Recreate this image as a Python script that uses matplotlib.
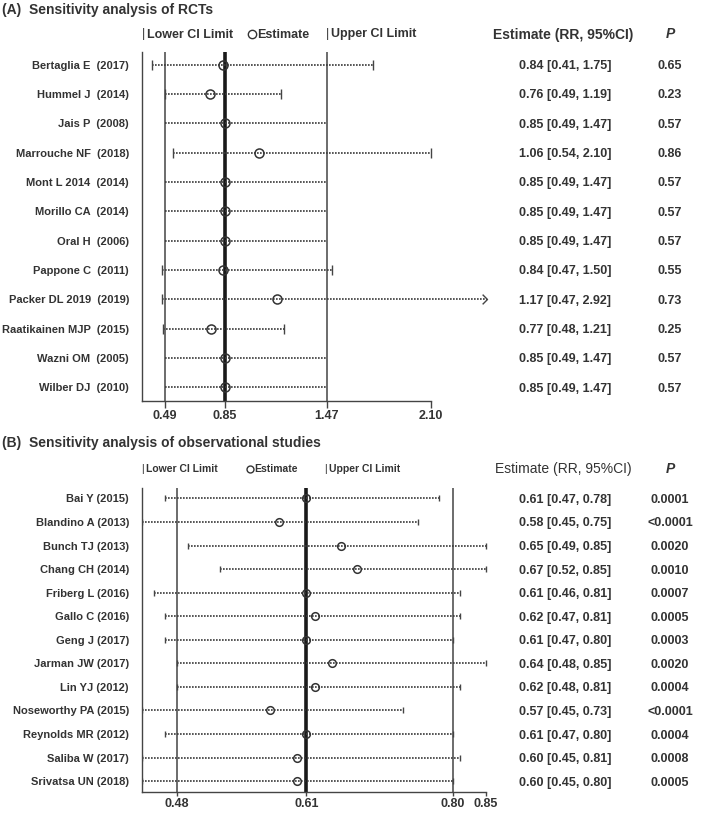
import matplotlib
matplotlib.use('Agg')
import matplotlib.pyplot as plt
from matplotlib.lines import Line2D
from matplotlib.path import Path
from matplotlib.ticker import NullLocator
from matplotlib.transforms import blended_transform_factory

# ---- data : panel A (RCTs) ----
rct_studies = ['Bertaglia E  (2017)', 'Hummel J  (2014)', 'Jais P  (2008)', 'Marrouche NF  (2018)',
               'Mont L 2014  (2014)', 'Morillo CA  (2014)', 'Oral H  (2006)', 'Pappone C  (2011)',
               'Packer DL 2019  (2019)', 'Raatikainen MJP  (2015)', 'Wazni OM  (2005)', 'Wilber DJ  (2010)']
rct_est = [0.84, 0.76, 0.85, 1.06, 0.85, 0.85, 0.85, 0.84, 1.17, 0.77, 0.85, 0.85]
rct_lo = [0.41, 0.49, 0.49, 0.54, 0.49, 0.49, 0.49, 0.47, 0.47, 0.48, 0.49, 0.49]
rct_hi = [1.75, 1.19, 1.47, 2.10, 1.47, 1.47, 1.47, 1.50, 2.92, 1.21, 1.47, 1.47]
rct_p = ['0.65', '0.23', '0.57', '0.86', '0.57', '0.57', '0.57', '0.55', '0.73', '0.25', '0.57', '0.57']
rct_overall = [0.49, 0.85, 1.47]
rct_ticks = [0.49, 0.85, 1.47, 2.10]

# ---- data : panel B (observational) ----
obs_studies = ['Bai Y (2015)', 'Blandino A (2013)', 'Bunch TJ (2013)', 'Chang CH (2014)', 'Friberg L (2016)',
               'Gallo C (2016)', 'Geng J (2017)', 'Jarman JW (2017)', 'Lin YJ (2012)', 'Noseworthy PA (2015)',
               'Reynolds MR (2012)', 'Saliba W (2017)', 'Srivatsa UN (2018)']
obs_est = [0.61, 0.58, 0.65, 0.67, 0.61, 0.62, 0.61, 0.64, 0.62, 0.57, 0.61, 0.60, 0.60]
obs_lo = [0.47, 0.45, 0.49, 0.52, 0.46, 0.47, 0.47, 0.48, 0.48, 0.45, 0.47, 0.45, 0.45]
obs_hi = [0.78, 0.75, 0.85, 0.85, 0.81, 0.81, 0.80, 0.85, 0.81, 0.73, 0.80, 0.81, 0.80]
obs_p = ['0.0001', '<0.0001', '0.0020', '0.0010', '0.0007', '0.0005', '0.0003', '0.0020', '0.0004',
         '<0.0001', '0.0004', '0.0008', '0.0005']
obs_overall = [0.48, 0.61, 0.80]
obs_ticks = [0.48, 0.61, 0.80, 0.85]

TXT = '#333333'
LINE = '#444444'
plt.rcParams['font.family'] = ['Liberation Sans', 'DejaVu Sans']

W, H = 709, 813
fig = plt.figure(figsize=(W / 100, H / 100), dpi=100)
chevron = Path([(-1, 1), (0, 0), (-1, -1)], [Path.MOVETO, Path.LINETO, Path.LINETO])


def fy(py):
    return 1 - py / H


def forest(ax, est, lo, hi, overall, ticks, studies, pvals, ms, cap, tick_len):
    n = len(est)
    xmin, xmax = ax.get_xlim()
    for i, v in enumerate(overall):
        ax.axvline(v, color='#1a1a1a' if i == 1 else LINE, lw=2.6 if i == 1 else 1.1, zorder=1)
    for i in range(n):
        right = hi[i] if hi[i] <= xmax else xmax * 0.996
        ax.plot([lo[i], right], [i, i], color='#3a3a3a', lw=1.2, ls=(0, (1, 0.8)), zorder=2)
        same = [lo[i], est[i], hi[i]] == overall
        if not same:
            ax.plot([lo[i]], [i], marker='|', ms=cap, mew=1.0, color=LINE, zorder=3)
            if hi[i] <= xmax:
                ax.plot([hi[i]], [i], marker='|', ms=cap, mew=1.0, color=LINE, zorder=3)
        if hi[i] > xmax:
            ax.plot([right], [i], marker=chevron, ms=7, mew=1.0, mfc='none', color=LINE, zorder=3)
        ax.plot([est[i]], [i], marker='o', ms=ms, mfc='none', mec='#333333', mew=1.1, zorder=4)

    ax.set_ylim(n - 1 + 0.46, -0.44)
    ax.set_yticks(range(n))
    ax.set_yticklabels(studies, fontsize=8, fontweight='bold', color=TXT)
    ax.tick_params(axis='y', length=0, pad=9.4)
    ax.set_xticks(ticks)
    ax.xaxis.set_minor_locator(NullLocator())
    ax.set_xticklabels(['%.2f' % t for t in ticks], fontsize=9, fontweight='bold', color=TXT)
    ax.tick_params(axis='x', direction='out', length=tick_len, width=1.0, color=LINE, pad=1.5)
    for s in ['top', 'right']:
        ax.spines[s].set_visible(False)
    for s in ['left', 'bottom']:
        ax.spines[s].set_color(LINE)
        ax.spines[s].set_linewidth(1.0)
    ax.spines['bottom'].set_bounds(xmin, ticks[-1])

    tr = blended_transform_factory(fig.transFigure, ax.transData)
    for i in range(n):
        ax.text(565 / W, i, '%.2f [%.2f, %.2f]' % (est[i], lo[i], hi[i]), transform=tr, ha='center',
                va='center_baseline', fontsize=9, fontweight='bold', color=TXT)
        ax.text(670 / W, i, pvals[i], transform=tr, ha='center', va='center_baseline',
                fontsize=9, fontweight='bold', color=TXT)


def header(y, size, x_lo, x_est, x_hi, ms):
    fig.text(x_lo / W, y, '|', fontsize=size, color=TXT, va='center')
    fig.text((x_lo + 5) / W, y, 'Lower CI Limit', fontsize=size, fontweight='bold', color=TXT, va='center')
    fig.add_artist(Line2D([x_est / W], [y], marker='o', ms=ms, mfc='none', mec=TXT, mew=1.0,
                          transform=fig.transFigure))
    fig.text((x_est + ms * 0.9) / W, y, 'Estimate', fontsize=size, fontweight='bold', color=TXT, va='center')
    fig.text(x_hi / W, y, '|', fontsize=size, color=TXT, va='center')
    fig.text((x_hi + 5) / W, y, 'Upper CI Limit', fontsize=size, fontweight='bold', color=TXT, va='center')


# ---- panel A ----
axA = fig.add_axes([142 / W, fy(400.7), 346.5 / W, (400.7 - 51.7) / H])
axA.set_xlim(0.35, 2.45)
forest(axA, rct_est, rct_lo, rct_hi, rct_overall, rct_ticks, rct_studies, rct_p, 6.5, 6.5, 5)

fig.text(2 / W, fy(10), '(A)  Sensitivity analysis of RCTs', fontsize=10, fontweight='bold',
         color=TXT, va='center', ha='left')
yh = fy(34.5)
header(yh, 9, 142, 252, 326, 6)
fig.text(563 / W, yh, 'Estimate (RR, 95%CI)', fontsize=10, fontweight='bold', color=TXT,
         va='center', ha='center')
fig.text(670 / W, yh, 'P', fontsize=10, fontweight='bold', style='italic', color=TXT,
         va='center', ha='center')

# ---- panel B ----
axB = fig.add_axes([142 / W, fy(792), 350 / W, (792 - 488) / H])
axB.set_xscale('log')
axB.set_xlim(0.45, 0.86)
forest(axB, obs_est, obs_lo, obs_hi, obs_overall, obs_ticks, obs_studies, obs_p, 5.5, 5, 3)

fig.text(2 / W, fy(443), '(B)  Sensitivity analysis of observational studies', fontsize=10,
         fontweight='bold', color=TXT, va='center', ha='left')
yh = fy(469)
header(yh, 7.5, 141, 250, 324, 5)
fig.text(563 / W, yh, 'Estimate (RR, 95%CI)', fontsize=10, color=TXT, va='center', ha='center')
fig.text(670 / W, yh, 'P', fontsize=10, fontweight='bold', style='italic', color=TXT,
         va='center', ha='center')

plt.savefig('out.png', dpi=100)
